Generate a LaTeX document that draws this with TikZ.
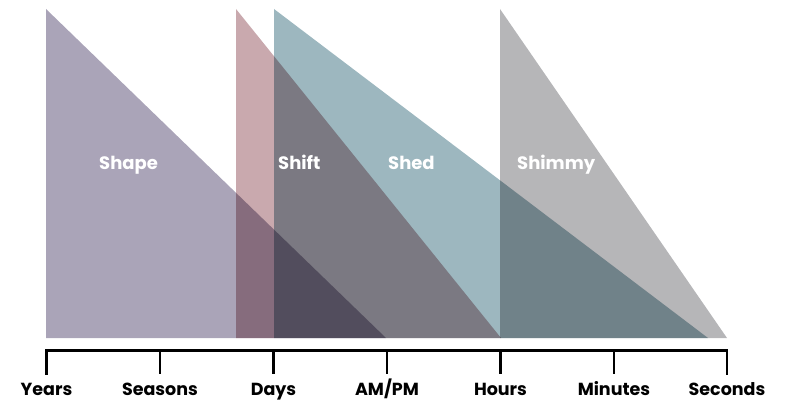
\documentclass[tikz,border=0pt]{standalone}
\usepackage{fontspec}
\setmainfont{Poppins}
\begin{document}
\begin{tikzpicture}[x=1pt,y=-1pt,
    inlabel/.style={text=white,font=\fontsize{18}{20}\selectfont\bfseries,anchor=base west,inner sep=0pt},
    scalelabel/.style={text=black,font=\fontsize{17.5}{20}\selectfont\bfseries,anchor=base,inner sep=0pt},
    axisline/.style={line width=2.4pt,line cap=rect},
    tickmark/.style={line width=2.4pt}]
  \definecolor{shapecol}{RGB}{170,164,184}
  \definecolor{shiftcol}{RGB}{201,169,174}
  \definecolor{shedcol}{RGB}{157,183,191}
  \definecolor{shimmycol}{RGB}{182,182,184}
  \useasboundingbox (0,0) rectangle (785,401);

  % overlapping phases, multiplied where they cross
  \begin{scope}[blend group=multiply]
    \fill[shapecol]  (46,9)  -- (46,338)  -- (386,338) -- cycle;
    \fill[shiftcol]  (236,9) -- (236,338) -- (501,338) -- cycle;
    \fill[shedcol]   (274,9) -- (274,338) -- (708,338) -- cycle;
    \fill[shimmycol] (500,9) -- (500,338) -- (727,338) -- cycle;
  \end{scope}

  \node[inlabel] (shape)  at (99,170)  {Shape};
  \node[inlabel] (shift)  at (278,170) {Shift};
  \node[inlabel] (shed)   at (388,170) {Shed};
  \node[inlabel] (shimmy) at (517,170) {Shimmy};

  % time scale
  \foreach \name/\x in {years/46.5,seasons/160,days/273.5,ampm/387,hours/500.5,minutes/614,seconds/727}{
    \coordinate (\name-top) at (\x,350.5);
    \coordinate (\name-end) at (\x,374);
  }
  \draw[axisline] (years-end) -- (years-top) -- (seconds-top) -- (seconds-end);
  \foreach \name in {seasons,days,ampm,hours,minutes}{
    \draw[tickmark] (\name-top) -- (\name-end);
  }
  \node[scalelabel] (lyears)   at (46.5,395) {Years};
  \node[scalelabel] (lseasons) at (160,395)  {Seasons};
  \node[scalelabel] (ldays)    at (273.5,395){Days};
  \node[scalelabel] (lampm)    at (387,395)  {AM/PM};
  \node[scalelabel] (lhours)   at (500.5,395){Hours};
  \node[scalelabel] (lminutes) at (614,395)  {Minutes};
  \node[scalelabel] (lseconds) at (727,395)  {Seconds};
\end{tikzpicture}
\end{document}
